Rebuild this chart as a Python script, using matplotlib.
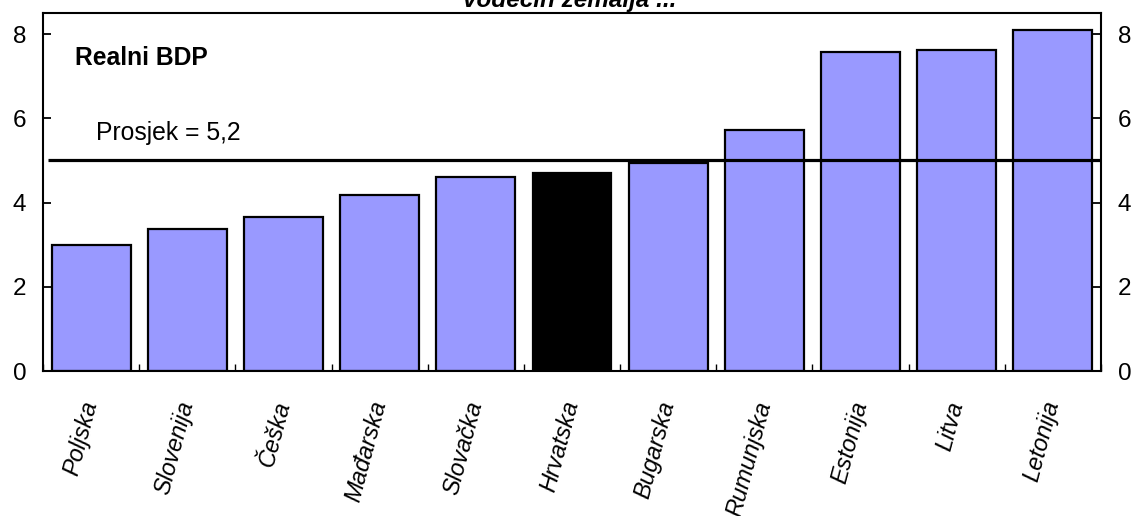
import matplotlib
matplotlib.use("Agg")
import matplotlib.pyplot as plt
import numpy as np

# --- Data ---
countries = ["Poljska", "Slovenija", "Češka", "Mađarska", "Slovačka", "Hrvatska",
             "Bugarska", "Rumunjska", "Estonija", "Litva", "Letonija"]
gdp_growth = [3.0, 3.37, 3.66, 4.18, 4.61, 4.70, 4.93, 5.72, 7.58, 7.61, 8.10]
highlight = "Hrvatska"
average_value = 5.0
average_label = "Prosjek = 5,2"
panel_label = "Realni BDP"
title_text = "vodećih zemalja ..."
yticks = [0, 2, 4, 6, 8]

plt.rcParams["font.family"] = ["Liberation Sans", "DejaVu Sans"]

fig = plt.figure(figsize=(11.34, 5.16), dpi=100)
ax = fig.add_axes([43 / 1134, 145 / 516, 1058 / 1134, 358 / 516])

x = np.arange(len(countries))
colors = ["black" if c == highlight else "#9999FF" for c in countries]
ax.bar(x, gdp_growth, width=0.82, color=colors, edgecolor="black", linewidth=1.6, zorder=2)

# average line
ax.plot([-0.45, len(countries) - 0.5], [average_value, average_value],
        color="black", linewidth=2.3, zorder=3, solid_capstyle="butt")

ax.set_xlim(-0.5, len(countries) - 0.5)
ax.set_ylim(0, 8.5)

for s in ax.spines.values():
    s.set_linewidth(1.5)

# y axis on both sides, ticks inward
ax.set_yticks(yticks)
ax.tick_params(axis="y", which="both", direction="in", length=6, width=1.3,
               left=True, right=True, labelleft=True, labelright=True,
               labelsize=17.5, pad=12)

# x ticks: labels at centres, tick marks at category boundaries
ax.set_xticks(x)
ax.set_xticklabels(countries, rotation=75, ha="right", va="center",
                   rotation_mode="anchor", fontsize=17, style="italic")
ax.tick_params(axis="x", which="major", length=0, pad=22)
ax.set_xticks(np.arange(-0.5, len(countries) + 0.5, 1), minor=True)
ax.tick_params(axis="x", which="minor", direction="in", length=5, width=1.0)

# annotations
fig.text(75 / 1134, (516 - 58) / 516, panel_label, fontsize=17.7,
         fontweight="bold", va="center", ha="left")
fig.text(96 / 1134, (516 - 133) / 516, average_label, fontsize=17.8,
         va="center", ha="left")
fig.text(570 / 1134, (516 - 7) / 516, title_text, fontsize=17.5, fontweight="bold",
         style="italic", ha="center", va="baseline")

fig.savefig("out.png", dpi=100)
